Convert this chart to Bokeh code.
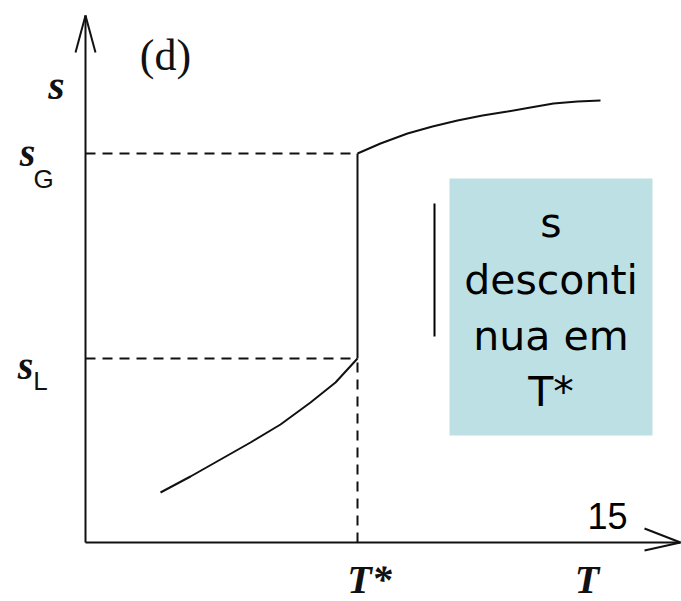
from bokeh.plotting import figure
from bokeh.models import Range1d
from bokeh.core.properties import value
from bokeh.embed import file_html
from bokeh.resources import INLINE

# Entropy s versus temperature T around a first-order transition at T*
t_star = 2.72
s_gas = 3.89
s_liq = 1.84

# liquid branch (below T*)
liq_T = [0.75, 1.05, 1.35, 1.65, 1.95, 2.25, 2.50, 2.72]
liq_s = [0.50, 0.66, 0.83, 1.00, 1.18, 1.40, 1.60, 1.84]

# gas branch (above T*)
gas_T = [2.72, 2.95, 3.22, 3.47, 3.72, 3.97, 4.22, 4.45, 4.68, 4.92, 5.15]
gas_s = [3.89, 3.99, 4.09, 4.16, 4.22, 4.27, 4.31, 4.35, 4.39, 4.41, 4.42]

axis_T_max = 5.95
axis_s_max = 5.27

note_lines = ["s", "desconti", "nua em", "T*"]
page_number = "15"

p = figure(width=681, height=601, output_backend="svg", toolbar_location=None,
           x_range=Range1d(-0.85, 5.96), y_range=Range1d(-0.59, 5.42),
           min_border=0, outline_line_color=None)
p.axis.visible = False
p.grid.visible = False
p.background_fill_color = "white"
p.border_fill_color = "white"

ink = "#111111"

# axes with open arrow heads
p.line([0, 0], [0, axis_s_max], line_color=ink, line_width=2)
p.line([0, axis_T_max], [0, 0], line_color=ink, line_width=2)
p.segment(x0=[-0.10, 0.10], y0=[axis_s_max - 0.37, axis_s_max - 0.37],
          x1=[0, 0], y1=[axis_s_max, axis_s_max], line_color=ink, line_width=2)
p.segment(x0=[axis_T_max - 0.36, axis_T_max - 0.36], y0=[0.14, -0.08],
          x1=[axis_T_max, axis_T_max], y1=[0, 0], line_color=ink, line_width=2)

# dashed guides to the axes
p.line([0, t_star], [s_gas, s_gas], line_color=ink, line_width=2, line_dash="10 7")
p.line([0, t_star], [s_liq, s_liq], line_color=ink, line_width=2, line_dash="10 7")
p.line([t_star, t_star], [0, s_liq], line_color=ink, line_width=2, line_dash="10 7")

# jump in s at T*
p.line([t_star, t_star], [s_liq, s_gas], line_color=ink, line_width=2)

# branches
p.line(liq_T, liq_s, line_color=ink, line_width=2)
p.line(gas_T, gas_s, line_color=ink, line_width=2)

# axis and level labels
serif = value("Liberation Serif")
p.text(x=[-0.29], y=[4.58], text=["s"], text_font=serif, text_font_size="42px",
       text_font_style="bold italic", text_align="center", text_baseline="middle",
       text_color=ink)
p.text(x=[0.80], y=[4.87], text=["(d)"], text_font=serif, text_font_size="44px",
       text_align="center", text_baseline="middle", text_color=ink)
p.text(x=[-0.58, -0.60], y=[3.90, 1.77], text=["s", "s"], text_font=serif,
       text_font_size="40px", text_font_style="bold italic", text_align="center",
       text_baseline="middle", text_color=ink)
p.text(x=[-0.42, -0.45], y=[3.64, 1.62], text=["G", "L"],
       text_font=value("Liberation Sans"), text_font_size="26px",
       text_align="center", text_baseline="middle", text_color=ink)
p.text(x=[2.84, 5.015], y=[-0.37, -0.37], text=["T*", "T"], text_font=serif,
       text_font_size="40px", text_font_style="bold italic", text_align="center",
       text_baseline="middle", text_color=ink)

# note box
p.quad(left=[3.64], right=[5.67], top=[3.64], bottom=[1.07],
       fill_color="#bce0e3", line_color=None)
p.line([3.49, 3.49], [2.06, 3.39], line_color="black", line_width=2)
p.text(x=[4.655] * 4, y=[3.20, 2.63, 2.07, 1.51], text=note_lines,
       text_font=value("DejaVu Sans"), text_font_size="41px",
       text_align="center", text_baseline="middle", text_color="black")

p.text(x=[5.22], y=[0.27], text=[page_number], text_font=value("Liberation Sans"),
       text_font_size="36px", text_align="center", text_baseline="middle",
       text_color="black")

open("out.html", "w").write(file_html(p, INLINE))
